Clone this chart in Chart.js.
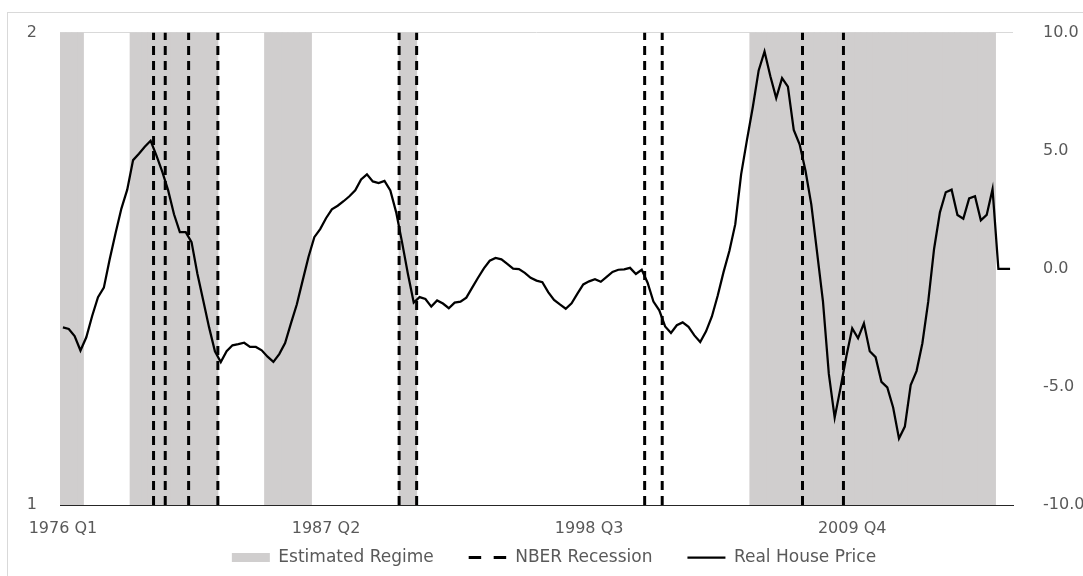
<!DOCTYPE html>
<html>
<head>
<meta charset="utf-8">
<title>Real House Price, Estimated Regime and NBER Recessions</title>
<script src="https://cdn.jsdelivr.net/npm/chart.js"></script>
<style>
  html, body { margin: 0; padding: 0; background: #fff; overflow: hidden; }
  .frame { position: absolute; left: 7px; top: 12px; width: 1100px; height: 600px; border: 1px solid #d9d9d9; }
  .chart-box { position: absolute; left: 0; top: 0; width: 1083px; height: 576px; }
</style>
</head>
<body>
<div class="frame"></div>
<div class="chart-box"><canvas id="chart"></canvas></div>
<script>
// quarters 1976 Q1 .. 2016 Q3
const quarters = [];
for (let y = 1976; y <= 2016; y++) {
  for (let q = 1; q <= 4; q++) {
    if (y === 2016 && q > 3) break;
    quarters.push(y + " Q" + q);
  }
}

const tickLabels = ["1976 Q1", "1987 Q2", "1998 Q3", "2009 Q4"];

// real house price, right axis
const housePrice = [
  -2.48, -2.55, -2.85, -3.46, -2.9, -2.0, -1.2, -0.8, 0.4, 1.5,
  2.55, 3.35, 4.6, 4.87, 5.17, 5.42, 4.79, 4.1, 3.32, 2.31,
  1.55, 1.55, 1.13, -0.21, -1.34, -2.48, -3.49, -3.95, -3.49, -3.24,
  -3.19, -3.13, -3.31, -3.31, -3.45, -3.72, -3.94, -3.61, -3.14, -2.31,
  -1.51, -0.5, 0.5, 1.34, 1.68, 2.14, 2.52, 2.67, 2.86, 3.07,
  3.32, 3.78, 4.0, 3.7, 3.63, 3.72, 3.32, 2.39, 1.13, -0.21,
  -1.43, -1.2, -1.28, -1.6, -1.34, -1.47, -1.67, -1.43, -1.39, -1.22,
  -0.8, -0.38, 0.02, 0.34, 0.46, 0.4, 0.21, 0.01, -0.01, -0.17,
  -0.38, -0.5, -0.57, -0.99, -1.32, -1.51, -1.69, -1.46, -1.05, -0.66,
  -0.53, -0.44, -0.55, -0.34, -0.13, -0.04, -0.02, 0.04, -0.22, -0.04,
  -0.59, -1.39, -1.76, -2.44, -2.72, -2.39, -2.27, -2.46, -2.82, -3.1,
  -2.65, -2.02, -1.13, -0.13, 0.76, 1.89, 4.0, 5.46, 6.85, 8.4,
  9.2, 8.15, 7.23, 8.07, 7.71, 5.88, 5.27, 4.16, 2.73, 0.67,
  -1.39, -4.45, -6.3, -5.04, -3.7, -2.52, -2.94, -2.31, -3.49, -3.74,
  -4.79, -5.02, -5.87, -7.18, -6.68, -4.92, -4.33, -3.15, -1.39, 0.84,
  2.39, 3.24, 3.35, 2.28, 2.12, 2.98, 3.07, 2.05, 2.28, 3.37,
  0, 0, 0
];

// estimated regime (shaded), first and last quarter of each spell
const regimeStart = ["1976 Q1", "1979 Q1", "1984 Q4", "1990 Q3", "2005 Q3"];
const regimeEnd = ["1976 Q4", "1982 Q3", "1986 Q3", "1991 Q1", "2015 Q4"];

// NBER recessions, first and last quarter
const nberStart = ["1980 Q1", "1981 Q3", "1990 Q3", "2001 Q1", "2007 Q4"];
const nberEnd = ["1980 Q2", "1982 Q3", "1991 Q1", "2001 Q3", "2009 Q2"];

const regimeData = [];
regimeStart.forEach((s, k) => {
  for (let i = quarters.indexOf(s); i <= quarters.indexOf(regimeEnd[k]); i++) {
    regimeData.push({ x: i, y: 2 });
  }
});

// vertical dashed lines on the quarter boundaries
const nberData = [];
nberStart.forEach((s, k) => {
  const a = quarters.indexOf(s) - 0.5;
  const b = quarters.indexOf(nberEnd[k]) + 0.5;
  nberData.push({ x: a, y: 1 }, { x: a, y: 2 }, { x: a, y: null });
  nberData.push({ x: b, y: 1 }, { x: b, y: 2 }, { x: b, y: null });
});

const priceData = housePrice.map((v, i) => ({ x: i, y: v }));

Chart.defaults.font.family = "'DejaVu Sans', sans-serif";
Chart.defaults.font.size = 16;
Chart.defaults.color = "#595959";

const config = {
  data: {
    datasets: [
      {
        type: "bar",
        label: "Estimated Regime",
        data: regimeData,
        yAxisID: "y",
        backgroundColor: "#d0cece",
        borderWidth: 0,
        base: 1,
        barPercentage: 1,
        categoryPercentage: 1,
        inflateAmount: 0.5,
        pointStyle: "rect",
        order: 3,
      },
      {
        type: "line",
        label: "NBER Recession",
        data: nberData,
        yAxisID: "y",
        borderColor: "#000",
        backgroundColor: "#000",
        borderWidth: 3,
        borderDash: [9, 6],
        pointRadius: 0,
        spanGaps: false,
        fill: false,
        pointStyle: "line",
        order: 2,
      },
      {
        type: "line",
        label: "Real House Price",
        data: priceData,
        yAxisID: "y1",
        borderColor: "#000",
        backgroundColor: "#000",
        borderWidth: 2.25,
        pointRadius: 0,
        tension: 0,
        fill: false,
        pointStyle: "line",
        order: 1,
      },
    ],
  },
  options: {
    responsive: true,
    maintainAspectRatio: false,
    animation: false,
    layout: {
      padding: { top: 29, left: 25, right: 0, bottom: 0 },
    },
    plugins: {
      tooltip: { enabled: false },
      legend: {
        position: "bottom",
        labels: {
          usePointStyle: true,
          pointStyleWidth: 38,
          boxHeight: 9,
          padding: 35,
          color: "#595959",
          font: { size: 17 },
          sort: (a, b) => a.datasetIndex - b.datasetIndex,
          generateLabels: (chart) => {
            const items = Chart.defaults.plugins.legend.labels.generateLabels(chart);
            items.forEach((it) => {
              const ds = chart.data.datasets[it.datasetIndex];
              if (ds.type === "line") {
                // legend sample shows two long dashes
                it.lineDash = ds.borderDash ? [12.5, 12.5] : [];
                it.lineWidth = ds.borderWidth;
              }
            });
            return items;
          },
        },
      },
    },
    scales: {
      x: {
        type: "linear",
        offset: false,
        min: -0.5,
        max: quarters.length - 0.5,
        grid: { display: false, offset: false },
        border: { display: true, color: "#262626", width: 1, z: 1 },
        ticks: {
          // mirror keeps the labels from being clipped to the thin axis box
          mirror: true,
          padding: -33,
          maxRotation: 0,
          autoSkip: false,
          callback: (v) => quarters[v],
        },
        afterBuildTicks: (scale) => {
          scale.ticks = tickLabels.map((l) => ({ value: quarters.indexOf(l) }));
        },
        afterFit: (scale) => {
          scale.height = 9;
        },
      },
      y: {
        position: "left",
        min: 1,
        max: 2,
        ticks: { stepSize: 1, padding: 23 },
        grid: { color: "#d9d9d9", drawTicks: false },
        border: { display: false },
        afterFit: (scale) => {
          scale.width = 35;
        },
      },
      y1: {
        position: "right",
        min: -10,
        max: 10,
        ticks: {
          stepSize: 5,
          padding: 22,
          callback: (v) => v.toFixed(1),
        },
        grid: { display: false },
        border: { display: false },
        afterFit: (scale) => {
          scale.width = 70;
        },
      },
    },
  },
};

const ctx = document.getElementById("chart").getContext("2d");
new Chart(ctx, config);
</script>
</body>
</html>
